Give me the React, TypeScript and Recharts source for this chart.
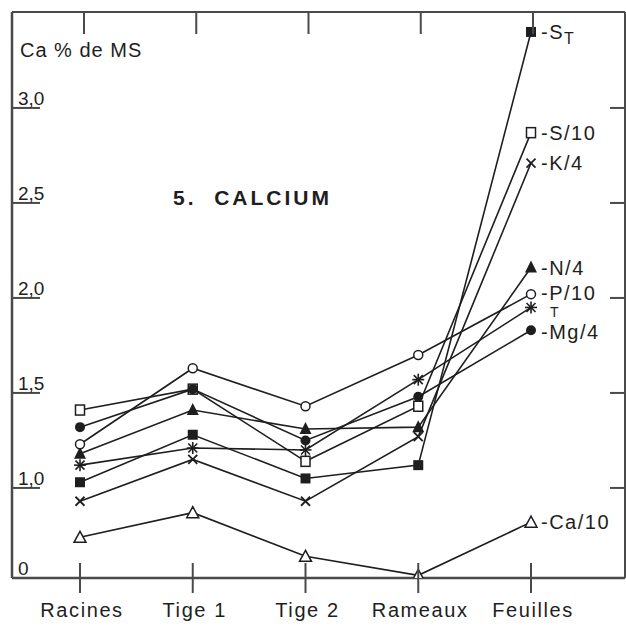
import { LineChart, Line, XAxis, YAxis } from "recharts";

// organ categories along the x axis
const CATEGORIES = ["Racines", "Tige 1", "Tige 2", "Rameaux", "Feuilles"];

// Ca % de MS per element ratio
const S_T = [1.03, 1.28, 1.05, 1.12, 3.4];
const S_10 = [1.41, 1.52, 1.14, 1.43, 2.87];
const K_4 = [0.93, 1.15, 0.93, 1.27, 2.71];
const N_4 = [1.18, 1.41, 1.31, 1.32, 2.16];
const P_10 = [1.23, 1.63, 1.43, 1.7, 2.02];
const T = [1.12, 1.21, 1.2, 1.57, 1.95];
const MG_4 = [1.32, 1.52, 1.25, 1.48, 1.83];
const CA_10 = [0.74, 0.87, 0.64, 0.54, 0.82];

// axis is broken below 1,0 : the floor of the frame is labelled "0"
const Y_FLOOR = 0.526;
const Y_TOP = 3.505;
const Y_TICKS = [Y_FLOOR, 1, 1.5, 2, 2.5, 3];

const INK = "#1e1e1e";
const FRAME = "#4a4a4a";
const FONT = "'Liberation Sans', Arial, sans-serif";

type Marker = "sqFill" | "sqOpen" | "cross" | "triFill" | "circOpen" | "star" | "circFill" | "triOpen";

// dx/dy/size: where the end label sits next to the last marker
const SERIES: {
  key: string;
  values: number[];
  marker: Marker;
  label: string;
  sub?: string;
  dx?: number;
  dy?: number;
  size?: number;
}[] = [
  { key: "sT", values: S_T, marker: "sqFill", label: "-S", sub: "T" },
  { key: "s10", values: S_10, marker: "sqOpen", label: "-S/10" },
  { key: "k4", values: K_4, marker: "cross", label: "-K/4" },
  { key: "n4", values: N_4, marker: "triFill", label: "-N/4" },
  { key: "p10", values: P_10, marker: "circOpen", label: "-P/10", dy: 6 },
  { key: "t", values: T, marker: "star", label: "T", dx: 19, dy: 10, size: 14 },
  { key: "mg4", values: MG_4, marker: "circFill", label: "-Mg/4", dy: 9 },
  { key: "ca10", values: CA_10, marker: "triOpen", label: "-Ca/10" },
];

const data = CATEGORIES.map((name, i) => {
  const row: Record<string, string | number> = { name };
  SERIES.forEach((s) => (row[s.key] = s.values[i]));
  return row;
});

function drawMarker(m: Marker, cx: number, cy: number) {
  switch (m) {
    case "sqFill":
      return <rect x={cx - 5} y={cy - 5} width={10} height={10} fill={INK} />;
    case "sqOpen":
      return <rect x={cx - 4.5} y={cy - 5} width={9} height={10} fill="#fff" stroke={INK} strokeWidth={1.5} />;
    case "cross":
      return (
        <g stroke={INK} strokeWidth={1.8}>
          <line x1={cx - 4.5} y1={cy - 4.5} x2={cx + 4.5} y2={cy + 4.5} />
          <line x1={cx - 4.5} y1={cy + 4.5} x2={cx + 4.5} y2={cy - 4.5} />
        </g>
      );
    case "triFill":
      return <polygon points={`${cx},${cy - 7} ${cx - 6},${cy + 5} ${cx + 6},${cy + 5}`} fill={INK} />;
    case "circOpen":
      return <circle cx={cx} cy={cy} r={4.5} fill="#fff" stroke={INK} strokeWidth={1.5} />;
    case "star":
      return (
        <g stroke={INK} strokeWidth={1.6}>
          <line x1={cx} y1={cy - 6} x2={cx} y2={cy + 6} />
          <line x1={cx - 6} y1={cy} x2={cx + 6} y2={cy} />
          <line x1={cx - 4.5} y1={cy - 4.5} x2={cx + 4.5} y2={cy + 4.5} />
          <line x1={cx - 4.5} y1={cy + 4.5} x2={cx + 4.5} y2={cy - 4.5} />
        </g>
      );
    case "circFill":
      return <circle cx={cx} cy={cy} r={5} fill={INK} />;
    case "triOpen":
      return (
        <polygon
          points={`${cx},${cy - 6} ${cx - 6},${cy + 5} ${cx + 6},${cy + 5}`}
          fill="#fff"
          stroke={INK}
          strokeWidth={1.5}
        />
      );
  }
}

function makeDot(s: (typeof SERIES)[number]) {
  return (props: any) => {
    const { cx, cy, index } = props;
    const last = index === CATEGORIES.length - 1;
    return (
      <g key={`${s.key}-${index}`}>
        {drawMarker(s.marker, cx, cy)}
        {last && (
          <text
            x={cx + (s.dx ?? 10)}
            y={cy + (s.dy ?? 7)}
            fontFamily={FONT}
            fontSize={s.size ?? 20}
            letterSpacing={1.5}
            fill={INK}
          >
            {s.label}
            {s.sub && (
              <tspan dy={5} fontSize={16}>
                {s.sub}
              </tspan>
            )}
          </text>
        )}
      </g>
    );
  };
}

const fmtY = (v: number) => (v === Y_FLOOR ? "0" : v.toFixed(1).replace(".", ","));

function LeftTick(props: any) {
  const { y, payload } = props;
  const x = 12;
  const isFloor = payload.value === Y_FLOOR;
  return (
    <g>
      {!isFloor && <line x1={x} y1={y} x2={x + 28} y2={y} stroke={FRAME} strokeWidth={2} />}
      <text x={x + 6} y={y - 3} fontFamily={FONT} fontSize={19} fill={INK}>
        {fmtY(payload.value)}
      </text>
    </g>
  );
}

function RightTick(props: any) {
  const { y, payload } = props;
  const x = 625;
  if (payload.value === Y_FLOOR) return <g />;
  return <line x1={x - 15} y1={y} x2={x} y2={y} stroke={FRAME} strokeWidth={2} />;
}

function BottomTick(props: any) {
  const { x, payload } = props;
  const y = 578;
  return (
    <g>
      <line x1={x} y1={y - 15} x2={x} y2={y + 15} stroke={FRAME} strokeWidth={2} />
      <text x={x + 2} y={y + 39} textAnchor="middle" fontFamily={FONT} fontSize={20} letterSpacing={1.6} fill={INK}>
        {payload.value}
      </text>
    </g>
  );
}

function TopTick(props: any) {
  const { x } = props;
  const y = 12;
  return <line x1={x} y1={y} x2={x} y2={y + 22} stroke={FRAME} strokeWidth={2} />;
}

export default function App() {
  return (
    <div style={{ position: "absolute", left: 0, top: 0, width: 626, height: 629, background: "#fff" }}>
      <LineChart width={626} height={629} data={data} margin={{ top: 11, right: 0, bottom: 50, left: 11 }}>
        <XAxis
          xAxisId="b"
          dataKey="name"
          height={1}
          padding={{ left: 68, right: 94 }}
          interval={0}
          tickSize={0}
          tickMargin={0}
          tickLine={false}
          axisLine={{ stroke: FRAME, strokeWidth: 2.5 }}
          tick={BottomTick}
        />
        <XAxis
          xAxisId="t"
          orientation="top"
          dataKey="name"
          height={1}
          padding={{ left: 72, right: 92 }}
          interval={0}
          tickSize={0}
          tickMargin={0}
          tickLine={false}
          axisLine={{ stroke: FRAME, strokeWidth: 2 }}
          tick={TopTick}
        />
        <YAxis
          yAxisId="l"
          type="number"
          width={1}
          domain={[Y_FLOOR, Y_TOP]}
          allowDataOverflow
          ticks={Y_TICKS}
          interval={0}
          tickSize={0}
          tickMargin={0}
          tickLine={false}
          axisLine={{ stroke: FRAME, strokeWidth: 2.5 }}
          tick={LeftTick}
        />
        <YAxis
          yAxisId="r"
          orientation="right"
          type="number"
          width={1}
          domain={[Y_FLOOR, Y_TOP]}
          allowDataOverflow
          ticks={Y_TICKS}
          interval={0}
          tickSize={0}
          tickMargin={0}
          tickLine={false}
          axisLine={{ stroke: FRAME, strokeWidth: 2 }}
          tick={RightTick}
        />
        {SERIES.map((s) => (
          <Line
            key={s.key}
            xAxisId="b"
            yAxisId="l"
            type="linear"
            dataKey={s.key}
            stroke={INK}
            strokeWidth={1.6}
            dot={makeDot(s)}
            activeDot={false}
            isAnimationActive={false}
          />
        ))}
      </LineChart>
      <svg
        width={626}
        height={629}
        style={{ position: "absolute", left: 0, top: 0, pointerEvents: "none" }}
      >
        <text x={20} y={57} fontFamily={FONT} fontSize={20} letterSpacing={1} fill={INK}>
          Ca % de MS
        </text>
        <text x={173} y={205} fontFamily={FONT} fontSize={21} fontWeight="bold" letterSpacing={3} fill={INK}>
          {"5.\u00a0 CALCIUM"}
        </text>
      </svg>
    </div>
  );
}
